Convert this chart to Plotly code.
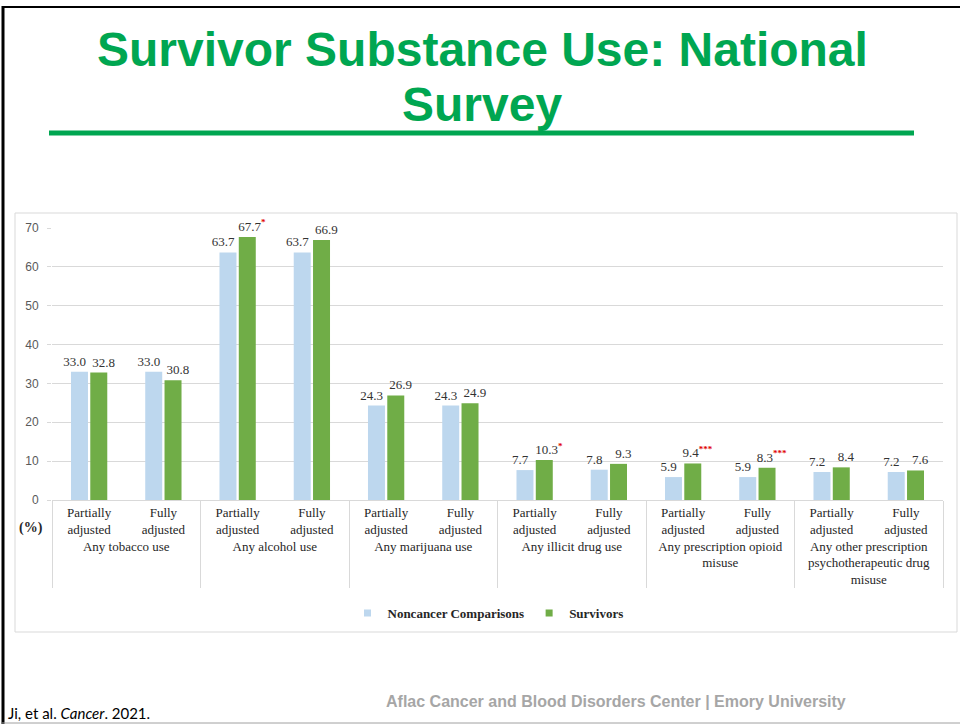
import plotly.graph_objects as go

# ---- data ----
groups = ["Any tobacco use", "Any alcohol use", "Any marijuana use",
          "Any illicit drug use", "Any prescription opioid<br>misuse",
          "Any other prescription<br>psychotherapeutic drug<br>misuse"]
levels = ["Partially<br>adjusted", "Fully<br>adjusted"]
noncancer = [33.0, 33.0, 63.7, 63.7, 24.3, 24.3, 7.7, 7.8, 5.9, 5.9, 7.2, 7.2]
survivors = [32.8, 30.8, 67.7, 66.9, 26.9, 24.9, 10.3, 9.3, 9.4, 8.3, 8.4, 7.6]
surv_sig = ["", "", "*", "", "", "", "*", "", "***", "***", "", ""]
y_ticks = [0, 10, 20, 30, 40, 50, 60, 70]

outer = [g for g in groups for _ in levels]
inner = [l for _ in groups for l in levels]

W, H = 960, 724
def px(x): return x / W
def py(y): return 1 - y / H

BLUE = "#BDD7EE"
GREEN = "#70AD47"
TITLE_GREEN = "#00A651"
SERIF = "Liberation Serif"
SANS = "Liberation Sans"
NB = "\u00a0"

fig = go.Figure()
fig.add_trace(go.Bar(
    x=[outer, inner], y=noncancer, name="Noncancer Comparisons", showlegend=False,
    marker=dict(color=BLUE, line=dict(width=0)),
    text=[f"{v:.1f}" + NB * 3 for v in noncancer], textposition="outside",
    textfont=dict(family=SERIF, size=13, color="#333333"),
    constraintext="none", cliponaxis=False,
))
fig.add_trace(go.Bar(
    x=[outer, inner], y=survivors, name="Survivors", showlegend=False,
    marker=dict(color=GREEN, line=dict(width=0)),
    text=[NB * 3 + f"{v:.1f}" + (f"<sup><span style='color:#E00000'><b>{s}</b></span></sup>" if s else "")
          for v, s in zip(survivors, surv_sig)],
    textposition="outside",
    textfont=dict(family=SERIF, size=13, color="#333333"),
    constraintext="none", cliponaxis=False,
))
# legend entries (small square keys, as in the reference)
for nm, col in [("Noncancer Comparisons", BLUE), ("Survivors", GREEN)]:
    fig.add_trace(go.Scatter(x=[None], y=[None], mode="markers", name=nm,
                             marker=dict(symbol="square", size=7, color=col)))

fig.update_layout(
    width=W, height=H, template="none",
    margin=dict(l=0, r=0, t=0, b=0),
    paper_bgcolor="white", plot_bgcolor="white",
    barmode="group", bargap=0.48, bargroupgap=0.12,
    showlegend=True,
    legend=dict(orientation="h", x=px(488), xanchor="center", y=py(613), yanchor="middle",
                font=dict(family=SERIF, size=13, color="#262626", weight="bold"),
                itemwidth=30, tracegroupgap=0),
    xaxis=dict(domain=[px(52), px(943)], type="multicategory",
               showline=True, linecolor="#D9D9D9", linewidth=1,
               showgrid=False, ticks="",
               tickfont=dict(family=SERIF, size=13, color="#262626"),
               showdividers=True, dividercolor="#D9D9D9", dividerwidth=1,
               automargin=False),
    yaxis=dict(domain=[py(500), py(228)], range=[0, 70],
               tickvals=y_ticks, showgrid=True, gridcolor="#D9D9D9", gridwidth=1,
               zeroline=False, showline=False,
               ticks="outside", ticklen=4, tickcolor="#D9D9D9",
               tickfont=dict(family=SANS, size=12, color="#595959"),
               ticklabelstandoff=6, automargin=False),
)

shapes = [
    # chart frame
    dict(type="rect", xref="paper", yref="paper", x0=px(15), x1=px(957), y0=py(632), y1=py(213),
         line=dict(color="#D9D9D9", width=1), layer="below"),
    # title underline
    dict(type="line", xref="paper", yref="paper", x0=px(49), x1=px(914), y0=py(133), y1=py(133),
         line=dict(color=TITLE_GREEN, width=5)),
    # slide borders
    dict(type="line", xref="paper", yref="paper", x0=px(3), x1=px(3), y0=py(724), y1=py(6),
         line=dict(color="black", width=3)),
    dict(type="line", xref="paper", yref="paper", x0=px(2), x1=1, y0=py(7), y1=py(7),
         line=dict(color="black", width=2)),
    dict(type="line", xref="paper", yref="paper", x0=px(2), x1=1, y0=py(723), y1=py(723),
         line=dict(color="#A0A0A0", width=1)),
]
fig.update_layout(shapes=shapes)

ann = [
    dict(text="Survivor Substance Use: National", x=px(482), y=py(49), xanchor="center", yanchor="middle",
         font=dict(family=SANS, size=48, color=TITLE_GREEN, weight="bold")),
    dict(text="Survey", x=px(482), y=py(105), xanchor="center", yanchor="middle",
         font=dict(family=SANS, size=48, color=TITLE_GREEN, weight="bold")),
    dict(text="(%)", x=px(31), y=py(528), xanchor="center", yanchor="middle",
         font=dict(family=SERIF, size=14, color="#262626", weight="bold")),
    dict(text="Ji, et al. <i>Cancer</i>. 2021.", x=px(6), y=py(713), xanchor="left", yanchor="middle",
         font=dict(family="Lato", size=15, color="black")),
    dict(text="Aflac Cancer and Blood Disorders Center | Emory University", x=px(616), y=py(701),
         xanchor="center", yanchor="middle",
         font=dict(family=SANS, size=16, color="#A6A6A6", weight="bold")),
]
for a in ann:
    a.update(xref="paper", yref="paper", showarrow=False)
fig.update_layout(annotations=ann)

fig.write_html("out.html")
